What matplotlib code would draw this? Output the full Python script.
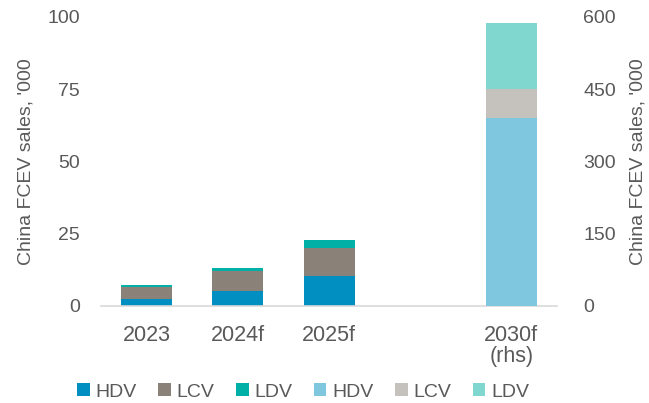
import matplotlib
matplotlib.use("Agg")
import matplotlib.pyplot as plt
import numpy as np

plt.rcParams['font.family'] = ['Liberation Sans', 'DejaVu Sans']

categories = ["2023", "2024f", "2025f", "", "2030f\n(rhs)"]
lhs_hdv = [2.4, 5.1, 10.5]
lhs_lcv = [4.3, 6.9, 9.6]
lhs_ldv = [0.5, 1.0, 2.7]
rhs_hdv = [391]
rhs_lcv = [60]
rhs_ldv = [137]

gray = '#595959'
c_hdv, c_lcv, c_ldv = '#008FC0', '#8A8178', '#00B0A6'
c_hdv2, c_lcv2, c_ldv2 = '#7FC7DF', '#C5C1BD', '#7FD7D0'

fig = plt.figure(figsize=(6.49, 4.03), dpi=100)
ax = fig.add_axes([0.156, 0.241, 0.702, 0.717])
ax2 = ax.twinx()

x = np.arange(len(categories))
w = 0.56
xl = x[:3]
xr = x[4:]

b1 = ax.bar(xl, lhs_hdv, w, color=c_hdv, label='HDV')
b2 = ax.bar(xl, lhs_lcv, w, bottom=lhs_hdv, color=c_lcv, label='LCV')
bot = np.array(lhs_hdv) + np.array(lhs_lcv)
b3 = ax.bar(xl, lhs_ldv, w, bottom=bot, color=c_ldv, label='LDV')

r1 = ax2.bar(xr, rhs_hdv, w, color=c_hdv2, label='HDV')
r2 = ax2.bar(xr, rhs_lcv, w, bottom=rhs_hdv, color=c_lcv2, label='LCV')
rbot = np.array(rhs_hdv) + np.array(rhs_lcv)
r3 = ax2.bar(xr, rhs_ldv, w, bottom=rbot, color=c_ldv2, label='LDV')

ax.set_xlim(-0.5, 4.5)
ax.set_ylim(0, 100)
ax2.set_ylim(0, 600)
ax.set_yticks([0, 25, 50, 75, 100])
ax2.set_yticks([0, 150, 300, 450, 600])
ax.set_xticks(x)
ax.set_xticklabels(categories)
for t in ax.get_xticklabels():
    t.set_linespacing(1.0)
ax.tick_params(axis='x', length=0, pad=14, labelsize=15.5, colors=gray)
ax.tick_params(axis='y', length=0, pad=15.5, labelsize=14, colors=gray)
ax2.tick_params(axis='y', length=0, pad=19, labelsize=14, colors=gray)

for a in (ax, ax2):
    for s in a.spines.values():
        s.set_visible(False)
ax.spines['bottom'].set_visible(True)
ax.spines['bottom'].set_color('#D9D9D9')
ax.spines['bottom'].set_linewidth(1.2)

ax.set_ylabel("China FCEV sales, '000", fontsize=14, color=gray, labelpad=9)
ax2.set_ylabel("China FCEV sales, '000", fontsize=14, color=gray, labelpad=10)

handles = [b1, b2, b3, r1, r2, r3]
labels = ['HDV', 'LCV', 'LDV', 'HDV', 'LCV', 'LDV']
fig.legend(handles, labels, loc='lower center', bbox_to_anchor=(0.467, -0.038), ncol=6,
           frameon=False, fontsize=14, labelcolor=gray, handlelength=0.65,
           handleheight=0.65, handletextpad=0.3, columnspacing=1.1)

fig.savefig('out.png', dpi=100)
